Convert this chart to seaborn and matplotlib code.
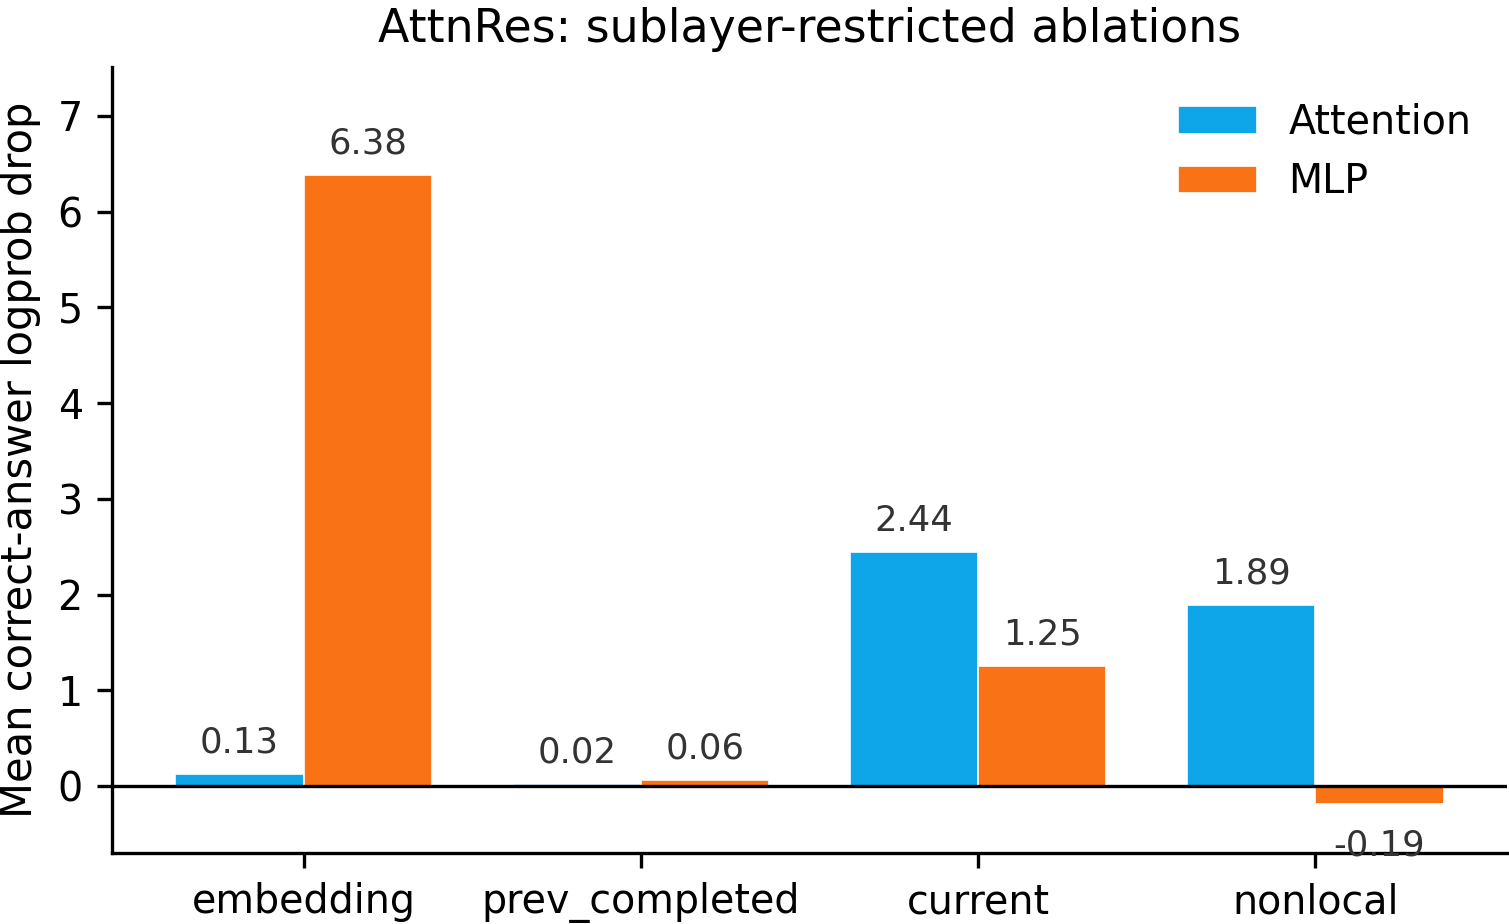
import matplotlib
matplotlib.use("Agg")
import matplotlib.pyplot as plt
import pandas as pd
import seaborn as sns

# -------------------------------------------------------------------
# data
# -------------------------------------------------------------------
regions = ["embedding", "prev_completed", "current", "nonlocal"]
attention_drop = [0.13, 0.02, 2.44, 1.89]
mlp_drop = [6.38, 0.06, 1.25, -0.19]
sublayers = ["Attention", "MLP"]
palette = {"Attention": "#0EA5E9", "MLP": "#F97316"}

df = pd.DataFrame(
    {
        "region": regions * 2,
        "sublayer": ["Attention"] * len(regions) + ["MLP"] * len(regions),
        "drop": attention_drop + mlp_drop,
    }
)

plt.rcParams["font.family"] = ["DejaVu Sans"]

fig, ax = plt.subplots(figsize=(1509 / 300, 924 / 300), dpi=300)
fig.subplots_adjust(left=112 / 1509, right=1507 / 1509, top=1 - 67 / 924, bottom=1 - 853 / 924)

sns.barplot(
    data=df,
    x="region",
    y="drop",
    hue="sublayer",
    hue_order=sublayers,
    order=regions,
    palette=palette,
    saturation=1,
    width=0.76,
    errorbar=None,
    edgecolor="white",
    linewidth=0.4,
    ax=ax,
)

ax.axhline(0, color="black", linewidth=0.8, zorder=3)

# value labels
for i, vals in enumerate([attention_drop, mlp_drop]):
    off = -0.19 if i == 0 else 0.19
    for j, v in enumerate(vals):
        if v >= 0:
            ax.text(j + off, v + 0.15, f"{v:.2f}", ha="center", va="bottom",
                    fontsize=8.5, color="#333333")
        else:
            ax.text(j + off, v - 0.25, f"{v:.2f}", ha="center", va="top",
                    fontsize=8.5, color="#333333")

ax.set_xlim(-0.568, 3.568)
ax.set_ylim(-0.7, 7.51)
ax.set_yticks(range(0, 8))
ax.set_xlabel("")
ax.set_ylabel("Mean correct-answer logprob drop", fontsize=10)
ax.set_title("AttnRes: sublayer-restricted ablations", fontsize=11)
ax.tick_params(labelsize=9.5)
ax.legend(frameon=False, loc="upper right", fontsize=9.5)
sns.despine(ax=ax)

fig.savefig("out.png", dpi=300)
